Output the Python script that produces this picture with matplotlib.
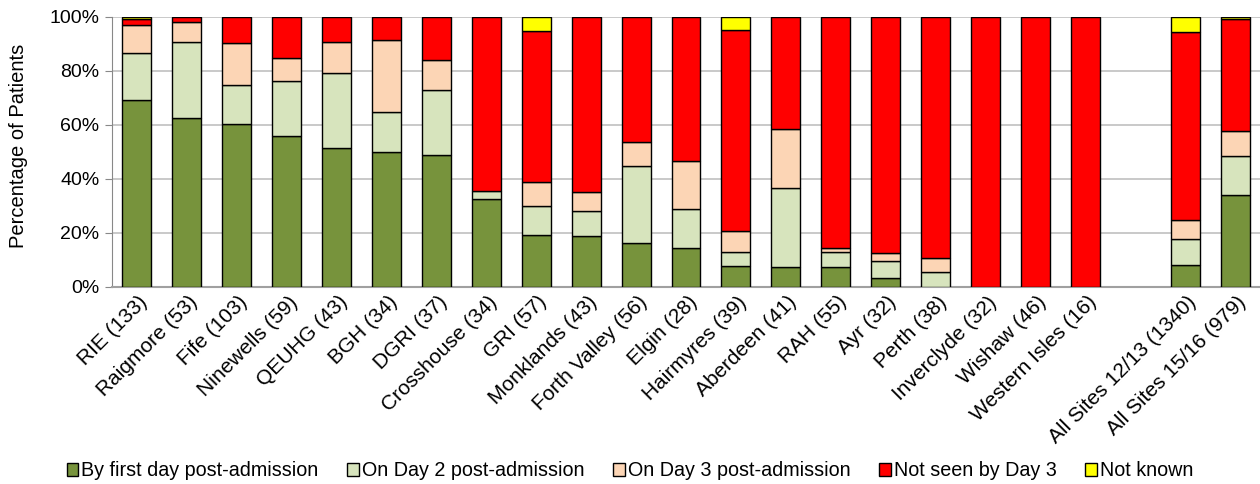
import matplotlib
matplotlib.use("Agg")
import matplotlib.pyplot as plt
import numpy as np
from matplotlib.patches import Patch

plt.rcParams['font.family'] = ['Liberation Sans', 'DejaVu Sans']

# sites (number of patients); an empty slot separates the national totals
sites = ["RIE (133)", "Raigmore (53)", "Fife (103)", "Ninewells (59)", "QEUHG (43)",
         "BGH (34)", "DGRI (37)", "Crosshouse (34)", "GRI (57)", "Monklands (43)",
         "Forth Valley (56)", "Elgin (28)", "Hairmyres (39)", "Aberdeen (41)", "RAH (55)",
         "Ayr (32)", "Perth (38)", "Inverclyde (32)", "Wishaw (46)", "Western Isles (16)",
         "", "All Sites 12/13 (1340)", "All Sites 15/16 (979)"]

# percentage of patients in each group
day1 = [69.2, 62.3, 60.2, 55.9, 51.2, 50.0, 48.6, 32.4, 19.3, 18.6,
        16.1, 14.3, 7.7, 7.3, 7.3, 3.1, 0.0, 0.0, 0.0, 0.0,
        0, 7.9, 33.9]
day2 = [17.3, 28.3, 14.6, 20.4, 27.9, 14.7, 24.4, 2.9, 10.5, 9.3,
        28.5, 14.3, 5.1, 29.3, 5.4, 6.3, 5.3, 0.0, 0.0, 0.0,
        0, 9.8, 14.6]
day3 = [10.5, 7.5, 15.5, 8.4, 11.6, 26.5, 10.8, 0.0, 8.8, 7.0,
        8.9, 17.8, 7.7, 21.9, 1.8, 3.1, 5.2, 0.0, 0.0, 0.0,
        0, 7.0, 9.2]
not_seen = [2.2, 1.9, 9.7, 15.3, 9.3, 8.8, 16.2, 64.7, 56.1, 65.1,
            46.5, 53.6, 74.4, 41.5, 85.5, 87.5, 89.5, 100.0, 100.0, 100.0,
            0, 69.6, 41.4]
not_known = [0.8, 0.0, 0.0, 0.0, 0.0, 0.0, 0.0, 0.0, 5.3, 0.0,
             0.0, 0.0, 5.1, 0.0, 0.0, 0.0, 0.0, 0.0, 0.0, 0.0,
             0, 5.7, 0.9]

series = [day1, day2, day3, not_seen, not_known]
names = ["By first day post-admission", "On Day 2 post-admission",
         "On Day 3 post-admission", "Not seen by Day 3", "Not known"]
colors = ["#77933C", "#D7E4BD", "#FCD5B5", "#FF0000", "#FFFF00"]

fig = plt.figure(figsize=(12.6, 4.84), dpi=100)
ax = fig.add_axes([0.0889, 0.4076, 0.9111, 0.5579])

x = np.arange(len(sites))
bottom = np.zeros(len(sites))
for vals, col in zip(series, colors):
    vals = np.array(vals, dtype=float)
    keep = vals > 0  # empty segments get no outline
    ax.bar(x[keep], vals[keep], 0.58, bottom=bottom[keep], color=col,
           edgecolor="black", linewidth=1.0, zorder=3)
    bottom += vals

ax.set_xlim(-0.5, len(sites) - 0.5)
ax.set_ylim(0, 100)
ax.set_yticks(np.arange(0, 101, 20))
ax.set_yticklabels([f"{v}%" for v in range(0, 101, 20)], fontsize=14)
ax.yaxis.grid(True, color="#c0c0c0", linewidth=1.2, zorder=0)
ax.set_axisbelow(True)

# hidden x ticks sit slightly right of the bar centres so the slanted
# labels end just past each bar
ax.set_xticks(x + 0.16)
ax.set_xticklabels(sites, rotation=45, ha="right", va="center",
                   rotation_mode="anchor", fontsize=15)
ax.tick_params(axis="x", length=0, pad=9)
ax.tick_params(axis="y", length=5, color="#888888", pad=4)

for side in ["top", "right"]:
    ax.spines[side].set_visible(False)
ax.spines["left"].set_color("#888888")
ax.spines["bottom"].set_color("#a0a0a0")
ax.spines["bottom"].set_linewidth(1.5)

ax.set_ylabel("Percentage of Patients", fontsize=14.5)
ax.yaxis.set_label_coords(-0.073, 0.52)

handles = [Patch(facecolor=c, edgecolor="black", linewidth=1.0) for c in colors]
fig.legend(handles, names, loc="center", bbox_to_anchor=(0.5, 0.027), ncol=5,
           frameon=False, fontsize=14.2, handlelength=0.6, handleheight=0.7,
           handletextpad=0.15, columnspacing=1.45)

fig.savefig("out.png", dpi=100)
